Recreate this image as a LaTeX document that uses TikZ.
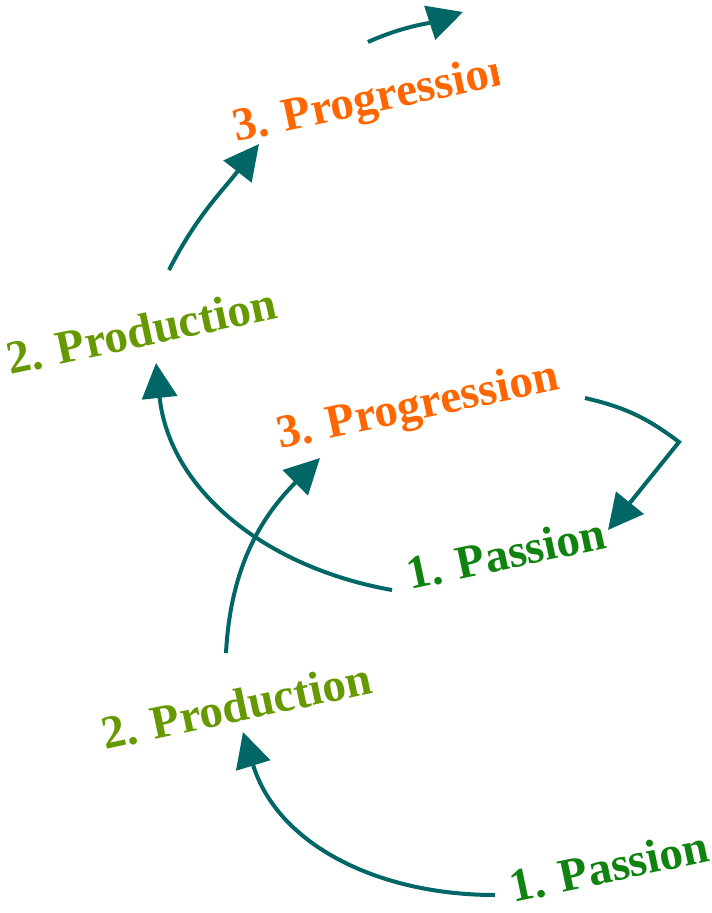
\documentclass[tikz,border=0pt]{standalone}
\usepackage{fontspec}
\setmainfont{Liberation Serif}
\usetikzlibrary{arrows.meta}
\definecolor{passion}{RGB}{16,130,16}
\definecolor{production}{RGB}{102,153,0}
\definecolor{progression}{RGB}{255,102,0}
\definecolor{arrowteal}{RGB}{0,102,102}
\tikzset{
  lbl/.style={inner sep=0pt, anchor=base west, rotate=12, font=\fontsize{47}{50}\selectfont\bfseries},
  passionlbl/.style={lbl, text=passion},
  productionlbl/.style={lbl, text=production},
  progressionlbl/.style={lbl, text=progression},
  flow/.style={draw=arrowteal, line width=4pt, -{Triangle[length=35pt,width=35pt]}},
}
\begin{document}
\begin{tikzpicture}[x=1pt,y=1pt]
\useasboundingbox (0,0) rectangle (712,-913);
% labels
\node[passionlbl] (pass1) at (513,-903) {1. Passion};
\node[productionlbl] (prod1) at (105,-750) {2. Production};
\node[progressionlbl] (prog1) at (280,-449) {3. Progression};
\node[passionlbl] (pass2) at (410,-590) {1. Passion};
\node[productionlbl] (prod2) at (10,-375) {2. Production};
\begin{scope}[shift={(236,-142)}, rotate=12]
  \clip (-10,-20) rectangle (270,60);
  \node[progressionlbl] (prog2) at (0,0) {3. Progression};
\end{scope}
% arrow end points
\coordinate (a6s) at (495,-895);
\coordinate (a6e) at (243,-732);
\coordinate (a5s) at (226,-653);
\coordinate (a5e) at (320,-458);
\coordinate (a4s) at (585,-398);
\coordinate (a4c) at (679,-442);
\coordinate (a4e) at (608,-530);
\coordinate (a3s) at (392,-590);
\coordinate (a3e) at (156,-363);
\coordinate (a2s) at (169,-270);
\coordinate (a2e) at (259,-144);
\coordinate (a1s) at (368,-42);
\coordinate (a1e) at (463,-12);
% connectors
\draw[flow] (a6s) to[out=180,in=287] (a6e);
\draw[flow] (a5s) to[out=87,in=225] (a5e);
\draw[flow] (a4s) to[bend left=12] (a4c) -- (a4e);
\draw[flow] (a3s) to[out=170,in=276] (a3e);
\draw[flow] (a2s) to[out=63,in=232] (a2e);
\draw[flow] (a1s) to[out=24,in=198] (a1e);
\end{tikzpicture}
\end{document}
